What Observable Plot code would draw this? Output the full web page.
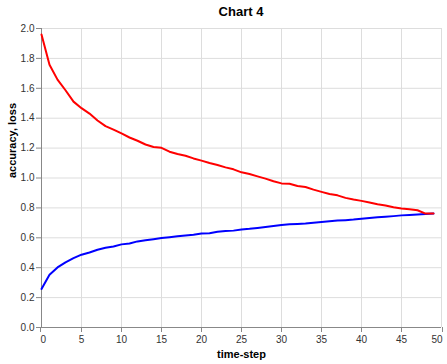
<!DOCTYPE html>
<html>
<head>
<meta charset="utf-8">
<script src="https://cdn.jsdelivr.net/npm/d3@7"></script>
<script src="https://cdn.jsdelivr.net/npm/@observablehq/plot@0.6"></script>
<style>
  html, body { margin: 0; padding: 0; background: #fff; }
  #title { height: 22px; line-height: 22px; font: bold 13px "Liberation Sans", Arial, sans-serif; color: #000;
           text-align: center; padding-left: 41px; padding-right: 6px; width: 400px; position: relative; top: 4px; }
</style>
</head>
<body>
<div id="title">Chart 4</div>
<div id="chart"></div>
<script>
const steps = [0,1,2,3,4,5,6,7,8,9,10,11,12,13,14,15,16,17,18,19,20,21,22,23,24,25,26,27,28,29,30,31,32,33,34,35,36,37,38,39,40,41,42,43,44,45,46,47,48,49];
const loss = [1.96,1.758,1.658,1.587,1.511,1.467,1.431,1.385,1.347,1.324,1.298,1.271,1.249,1.224,1.207,1.202,1.176,1.16,1.149,1.131,1.116,1.10,1.087,1.071,1.058,1.038,1.027,1.011,0.996,0.978,0.964,0.962,0.947,0.94,0.922,0.907,0.893,0.884,0.867,0.856,0.847,0.836,0.824,0.816,0.804,0.796,0.791,0.784,0.762,0.762];
const accuracy = [0.258,0.353,0.402,0.436,0.464,0.487,0.502,0.52,0.533,0.542,0.556,0.562,0.576,0.584,0.591,0.598,0.604,0.61,0.616,0.621,0.628,0.631,0.640,0.645,0.648,0.656,0.660,0.666,0.672,0.679,0.686,0.690,0.693,0.695,0.700,0.706,0.710,0.715,0.718,0.722,0.728,0.733,0.737,0.741,0.745,0.750,0.753,0.756,0.760,0.763];
const xTicks = [0,5,10,15,20,25,30,35,40,45,50];
const yTicks = [0,0.2,0.4,0.6,0.8,1.0,1.2,1.4,1.6,1.8,2.0];
const xLabel = "time-step";
const yLabel = "accuracy, loss";

const lossData = steps.map((s, i) => ({step: s, value: loss[i]}));
const accData = steps.map((s, i) => ({step: s, value: accuracy[i]}));

const xAxisOpts = {tickSize: 5, tickPadding: 3, stroke: "#888", fill: "#333", fontSize: 10, label: null};
const xFirst = xTicks.slice(0, 1);
const xMid = xTicks.slice(1, -1);
const xLast = xTicks.slice(-1);

const chart = Plot.plot({
  width: 447,
  height: 342,
  marginLeft: 41,
  marginRight: 6,
  marginTop: 6,
  marginBottom: 37,
  style: {fontFamily: '"Liberation Sans", Arial, sans-serif', background: "#fff"},
  x: {domain: [0, 50]},
  y: {domain: [0, 2]},
  marks: [
    Plot.gridX(xTicks, {stroke: "#ddd", strokeOpacity: 1}),
    Plot.gridY(yTicks, {stroke: "#ddd", strokeOpacity: 1}),
    Plot.ruleX([0], {stroke: "#888"}),
    Plot.ruleY([0], {stroke: "#888"}),
    Plot.axisX(xMid, xAxisOpts),
    Plot.axisX(xFirst, {...xAxisOpts, textAnchor: "start", dx: -1}),
    Plot.axisX(xLast, {...xAxisOpts, textAnchor: "end", dx: 1}),
    Plot.axisY(yTicks, {tickSize: 5, tickPadding: 2, stroke: "#888", fill: "#333", fontSize: 10, label: null, tickFormat: d3.format(".1f")}),
    Plot.text([xLabel], {frameAnchor: "bottom", dy: 30, fontWeight: "bold", fontSize: 11, fill: "#000"}),
    Plot.text([yLabel], {frameAnchor: "left", dx: -29, rotate: -90, fontWeight: "bold", fontSize: 11, fill: "#000"}),
    Plot.line(accData, {x: "step", y: "value", stroke: "blue", strokeWidth: 2}),
    Plot.line(lossData, {x: "step", y: "value", stroke: "red", strokeWidth: 2})
  ]
});
document.getElementById("chart").appendChild(chart);
</script>
</body>
</html>
